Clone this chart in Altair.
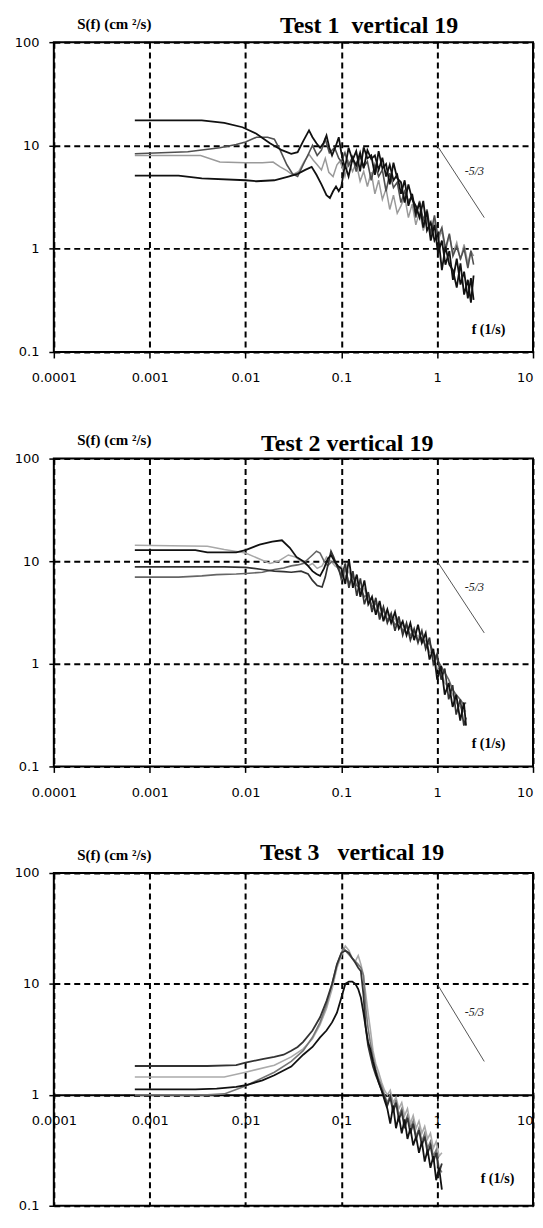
import altair as alt
import pandas as pd

SERIF = "Liberation Serif"
SANS = "DejaVu Sans"
NB = "\u00a0"

XTICKS = [0.0001, 0.001, 0.01, 0.1, 1, 10]
YTICKS = [0.1, 1, 10, 100]
X_DOMAIN = [0.0001, 10]
Y_DOMAIN = [0.1, 100]

SLOPE_F = [1, 3.1]
SLOPE_S = [10, 2.0]
SLOPE_TEXT = "-5/3"
SLOPE_TEXT_F = [2.45]
SLOPE_TEXT_S = [5.6]

TITLES = ["Test 1" + NB + " vertical 19", "Test 2 vertical 19", "Test 3" + NB + NB + " vertical 19"]
Y_TITLE = "S(f) (cm ²/s)"
X_TITLE = "f (1/s)"

# ---------------- Test 1 ----------------
T1_HF_F = [0.1, 0.109, 0.119, 0.131, 0.143, 0.157, 0.171, 0.187, 0.205, 0.224, 0.245, 0.268,
           0.293, 0.32, 0.35, 0.383, 0.419, 0.458, 0.501, 0.548, 0.599, 0.655, 0.716, 0.783,
           0.857, 0.937, 1.02, 1.12, 1.22, 1.34, 1.46, 1.6, 1.75, 1.91, 2.09, 2.25, 2.4]

T1_A_F = [0.0007, 0.0035, 0.006, 0.0093, 0.013, 0.018, 0.024, 0.03, 0.035, 0.04, 0.046, 0.05,
          0.055, 0.06, 0.065, 0.07, 0.075, 0.08, 0.088, 0.094]
T1_A_S = [17.5, 17.5, 16.5, 15, 13, 10.5, 9, 8.3, 8.6, 11, 14, 12, 10.5, 9.5, 10.5, 12.5, 9.5, 8,
          10, 12]
T1_A_HF = [8.5, 6.0, 9.5, 7.2, 8.8, 5.6, 9.6, 7.5, 8.0, 5.2, 8.8, 6.0, 6.6, 4.2, 6.8, 4.8, 4.4,
           2.8, 4.2, 3.0, 2.6, 2.0, 2.9, 1.5, 1.8, 1.2, 1.4, 0.62, 1.05, 0.7, 0.62, 0.42, 0.72,
           0.36, 0.5, 0.3, 0.55]

T1_B_F = [0.0007, 0.0025, 0.0054, 0.008, 0.01, 0.013, 0.017, 0.02, 0.023, 0.027, 0.031, 0.035,
          0.04, 0.046, 0.05, 0.056, 0.062, 0.068, 0.075, 0.085, 0.094]
T1_B_S = [8.3, 8.7, 9.5, 10.2, 10.8, 12, 12, 11.5, 9, 6.5, 5.3, 5.0, 6.5, 8.5, 10, 8, 9, 11.5,
          8.5, 9.5, 7.5]
T1_B_HF = [7.0, 8.5, 6.4, 7.8, 5.6, 8.0, 6.2, 7.0, 4.6, 6.5, 5.0, 5.8, 3.6, 5.4, 3.9, 4.4, 2.8,
           3.6, 2.9, 3.2, 2.0, 2.9, 1.9, 2.4, 1.4, 2.1, 1.3, 1.6, 1.0, 1.4, 0.85, 1.05, 0.8, 1.0,
           0.65, 0.95, 0.7]

T1_C_F = [0.0007, 0.0034, 0.0054, 0.01, 0.015, 0.0194, 0.023, 0.027, 0.031, 0.036, 0.041, 0.046,
          0.051, 0.056, 0.062, 0.068, 0.074, 0.082, 0.09, 0.096]
T1_C_S = [8.0, 8.0, 6.9, 6.8, 6.8, 6.9, 6.2, 5.7, 5.2, 5.6, 7.0, 8.2, 7.2, 6.5, 5.8, 7.5, 5.5,
          5.0, 6.5, 7.0]
T1_C_HF = [6.5, 5.0, 7.0, 5.6, 6.8, 4.5, 5.6, 4.0, 5.5, 3.4, 4.6, 3.0, 3.8, 2.4, 3.3, 2.2, 2.6,
           3.2, 2.0, 2.7, 1.7, 2.3, 1.5, 2.0, 1.3, 1.9, 1.2, 1.5, 0.95, 1.35, 0.9, 1.15, 0.78,
           1.1, 0.72, 0.95, 0.85]

T1_D_F = [0.0007, 0.002, 0.0035, 0.01, 0.013, 0.02, 0.028, 0.035, 0.042, 0.049, 0.055, 0.062,
          0.07, 0.076, 0.082, 0.088, 0.094]
T1_D_S = [5.1, 5.1, 4.8, 4.6, 4.5, 4.6, 5.0, 5.3, 5.8, 6.2, 5.2, 4.2, 3.3, 3.1, 3.6, 4.0, 3.6]
T1_D_HF = [4.0, 6.5, 5.0, 7.5, 6.4, 8.5, 6.0, 9.0, 7.4, 8.0, 5.8, 7.6, 5.0, 6.5, 4.6, 5.2, 3.4,
           4.6, 2.6, 3.4, 2.2, 2.8, 1.6, 2.3, 1.2, 1.7, 0.9, 1.2, 0.7, 0.95, 0.5, 0.8, 0.45, 0.6,
           0.33, 0.52, 0.32]

# ---------------- Test 2 ----------------
T2_HF_F = [0.1, 0.11, 0.12, 0.132, 0.145, 0.158, 0.174, 0.191, 0.209, 0.229, 0.251, 0.275,
           0.302, 0.331, 0.363, 0.398, 0.437, 0.479, 0.525, 0.575, 0.631, 0.692, 0.759, 0.832,
           0.912, 1.0, 1.1, 1.2, 1.32, 1.45, 1.58, 1.74, 1.9, 2.0]

T2_A_F = [0.0007, 0.003, 0.004, 0.008, 0.01, 0.014, 0.019, 0.024, 0.029, 0.034, 0.04, 0.045,
          0.05, 0.055, 0.06, 0.066, 0.072, 0.078, 0.085, 0.092]
T2_A_S = [12.8, 12.8, 12.2, 12.2, 12.8, 14.5, 15.5, 16.0, 13.5, 11.0, 10.0, 9.0, 8.0, 7.5, 7.2,
          8.5, 10.5, 11.5, 10.0, 9.0]
T2_A_HF = [8.5, 6.0, 10.5, 5.5, 7.4, 4.5, 6.5, 3.8, 4.5, 3.0, 4.1, 2.6, 3.4, 2.5, 3.2, 2.2, 2.6,
           1.9, 2.5, 1.7, 2.4, 1.6, 2.0, 1.1, 1.4, 0.7, 0.95, 0.5, 0.65, 0.38, 0.5, 0.28, 0.42,
           0.25]

T2_B_F = [0.0007, 0.006, 0.01, 0.015, 0.02, 0.025, 0.03, 0.038, 0.045, 0.05, 0.056, 0.063,
          0.068, 0.073, 0.078, 0.083, 0.09, 0.095]
T2_B_S = [8.8, 8.8, 8.7, 8.3, 8.0, 7.9, 7.8, 8.0, 7.5, 6.5, 5.8, 5.6, 7.0, 9.5, 12.5, 11.0, 9.0,
          8.0]
T2_B_HF = [7.0, 9.5, 5.5, 8.0, 4.6, 6.8, 3.8, 5.0, 3.2, 4.4, 2.7, 3.6, 2.5, 3.1, 2.1, 2.9, 1.9,
           2.5, 1.7, 2.2, 1.6, 2.1, 1.4, 1.8, 1.0, 1.25, 0.7, 0.9, 0.45, 0.62, 0.32, 0.45, 0.25,
           0.3]

T2_C_F = [0.0007, 0.004, 0.006, 0.01, 0.014, 0.018, 0.022, 0.028, 0.033, 0.038, 0.045, 0.05,
          0.056, 0.063, 0.07, 0.078, 0.086, 0.094]
T2_C_S = [14.3, 14.0, 13.0, 12.0, 10.5, 9.5, 10.0, 11.5, 11.0, 10.0, 9.0, 9.5, 8.5, 9.0, 11.0,
          10.0, 9.0, 8.5]
T2_C_HF = [9.0, 7.0, 8.0, 6.2, 6.5, 5.0, 5.4, 4.0, 4.3, 3.2, 3.6, 2.8, 3.1, 2.5, 2.8, 2.2, 2.4,
           2.0, 2.2, 1.8, 1.9, 1.6, 1.7, 1.3, 1.25, 0.9, 0.85, 0.65, 0.58, 0.5, 0.42, 0.38, 0.34,
           0.35]

T2_D_F = [0.0007, 0.002, 0.0035, 0.005, 0.008, 0.01, 0.015, 0.02, 0.025, 0.03, 0.035, 0.04,
          0.045, 0.05, 0.055, 0.06, 0.066, 0.072, 0.08, 0.088, 0.095]
T2_D_S = [7.0, 7.0, 7.2, 7.4, 7.5, 7.6, 7.8, 8.3, 8.6, 9.0, 9.2, 9.5, 10.5, 11.5, 12.5, 12.0,
          10.0, 9.0, 10.0, 9.5, 8.5]
T2_D_HF = [6.5, 8.5, 6.0, 7.2, 5.8, 5.4, 4.5, 4.8, 3.6, 3.9, 3.0, 3.3, 2.7, 2.9, 2.4, 2.6, 2.1,
           2.3, 1.9, 2.1, 1.7, 1.8, 1.5, 1.6, 1.3, 1.1, 0.95, 0.82, 0.7, 0.56, 0.5, 0.45, 0.4,
           0.42]

# ---------------- Test 3 ----------------
T3_HF_F = [0.2, 0.214, 0.229, 0.245, 0.263, 0.282, 0.302, 0.324, 0.347, 0.372, 0.398, 0.427,
           0.457, 0.49, 0.525, 0.562, 0.603, 0.646, 0.692, 0.741, 0.794, 0.851, 0.912, 0.977,
           1.047, 1.12]

T3_A_F = [0.0007, 0.004, 0.008, 0.01, 0.015, 0.02, 0.025, 0.03, 0.035, 0.04, 0.05, 0.06, 0.07,
          0.08, 0.09, 0.1, 0.11, 0.12, 0.13, 0.14, 0.15, 0.16, 0.17, 0.18, 0.19]
T3_A_S = [1.82, 1.82, 1.85, 1.95, 2.1, 2.2, 2.3, 2.5, 2.7, 3.0, 3.8, 5.0, 7.0, 10.0, 15.0, 19.0,
          20.0, 19.0, 17.0, 15.5, 14.0, 13.0, 8.0, 4.0, 2.8]
T3_A_HF = [2.3, 1.8, 1.5, 1.3, 1.1, 0.95, 0.8, 0.95, 0.7, 0.85, 0.6, 0.7, 0.5, 0.62, 0.45, 0.55,
           0.4, 0.48, 0.35, 0.42, 0.3, 0.35, 0.25, 0.3, 0.2, 0.24]

T3_B_F = [0.0007, 0.006, 0.01, 0.02, 0.03, 0.04, 0.05, 0.06, 0.07, 0.08, 0.09, 0.1, 0.11, 0.12,
          0.13, 0.14, 0.15, 0.16, 0.17, 0.18, 0.19]
T3_B_S = [1.45, 1.45, 1.6, 1.85, 2.2, 2.6, 3.2, 4.3, 6.0, 9.0, 14.0, 18.0, 22.0, 20.0, 17.0, 16.0,
          18.0, 15.0, 12.0, 8.0, 5.5]
T3_B_HF = [4.0, 2.5, 1.9, 1.6, 1.3, 1.1, 1.0, 1.1, 0.85, 0.95, 0.75, 0.85, 0.65, 0.75, 0.55, 0.65,
           0.5, 0.58, 0.45, 0.52, 0.4, 0.45, 0.33, 0.38, 0.28, 0.3]

T3_C_F = [0.0007, 0.003, 0.005, 0.008, 0.01, 0.015, 0.02, 0.03, 0.04, 0.05, 0.06, 0.07, 0.08,
          0.09, 0.1, 0.11, 0.12, 0.13, 0.14, 0.15, 0.16, 0.17, 0.18, 0.19]
T3_C_S = [1.12, 1.12, 1.14, 1.18, 1.22, 1.35, 1.5, 1.8, 2.3, 2.7, 3.3, 3.8, 4.5, 5.5, 7.5, 10.0,
          10.5, 10.5, 10.0, 9.0, 7.5, 5.5, 4.0, 3.0]
T3_C_HF = [2.6, 2.0, 1.6, 1.3, 1.1, 0.9, 0.75, 0.55, 0.8, 0.5, 0.65, 0.45, 0.6, 0.4, 0.5, 0.35,
           0.42, 0.3, 0.38, 0.25, 0.32, 0.22, 0.28, 0.17, 0.22, 0.14]

T3_D_F = [0.0007, 0.004, 0.006, 0.01, 0.02, 0.03, 0.04, 0.05, 0.06, 0.07, 0.08, 0.09, 0.1, 0.105,
          0.11, 0.13, 0.15, 0.16, 0.17, 0.18, 0.19]
T3_D_S = [1.0, 1.0, 1.02, 1.2, 1.6, 2.0, 2.5, 3.3, 4.5, 6.5, 10.0, 15.0, 19.0, 21.0, 20.0, 17.0,
          15.0, 14.0, 12.0, 6.0, 4.0]
T3_D_HF = [3.0, 2.2, 1.7, 1.4, 1.2, 1.0, 0.85, 1.0, 0.75, 0.9, 0.65, 0.75, 0.55, 0.65, 0.5, 0.58,
           0.42, 0.5, 0.38, 0.45, 0.33, 0.38, 0.28, 0.32, 0.22, 0.2]

# curve sets: (low-freq f, low-freq S, high-freq f, high-freq S, colour, width), drawn in order
PANELS = [
    [(T1_C_F, T1_C_S, T1_HF_F, T1_C_HF, "#9a9a9a", 1.5),
     (T1_B_F, T1_B_S, T1_HF_F, T1_B_HF, "#505050", 1.6),
     (T1_D_F, T1_D_S, T1_HF_F, T1_D_HF, "#111111", 1.8),
     (T1_A_F, T1_A_S, T1_HF_F, T1_A_HF, "#111111", 1.8)],
    [(T2_C_F, T2_C_S, T2_HF_F, T2_C_HF, "#a8a8a8", 1.5),
     (T2_D_F, T2_D_S, T2_HF_F, T2_D_HF, "#666666", 1.6),
     (T2_B_F, T2_B_S, T2_HF_F, T2_B_HF, "#333333", 1.7),
     (T2_A_F, T2_A_S, T2_HF_F, T2_A_HF, "#111111", 1.8)],
    [(T3_B_F, T3_B_S, T3_HF_F, T3_B_HF, "#aaaaaa", 1.6),
     (T3_D_F, T3_D_S, T3_HF_F, T3_D_HF, "#777777", 1.6),
     (T3_A_F, T3_A_S, T3_HF_F, T3_A_HF, "#333333", 1.8),
     (T3_C_F, T3_C_S, T3_HF_F, T3_C_HF, "#111111", 1.8)],
]

W = 481
HEIGHTS = [311, 309, 334]
TITLE_X = [227, 208, 207]
TITLE_Y = [-9, -8, -13]

LAST_LABEL_ALIGN = {"condition": {"test": "datum.value >= 10", "value": "right"}, "value": "center"}


def make_panel(k):
    h = HEIGHTS[k]
    xa = dict(values=XTICKS, format="~g", grid=True, gridDash=[6, 4], gridColor="black",
              gridWidth=2, gridOpacity=1, domain=(k == 2), domainColor="black", domainWidth=2,
              ticks=True, tickSize=6, tickColor="black", tickWidth=1.5, labelPadding=14,
              labelFont=SANS, labelFontSize=13, labelColor="black", labelFlush=False,
              labelOverlap=False, labelAlign=LAST_LABEL_ALIGN,
              title=X_TITLE, titleAngle=0, titleAlign="left",
              titleBaseline="alphabetic", titleFont=SERIF, titleFontSize=14,
              titleFontWeight="bold", titleColor="black",
              titleX=419 if k < 2 else 428,
              titleY=-19 if k < 2 else 88)
    if k == 2:
        xa["offset"] = -h / 3
    x_axis = alt.Axis(**xa)
    y_axis = alt.Axis(values=YTICKS, format="~g", grid=True, gridDash=[6, 4], gridColor="black",
                      gridWidth=2, gridOpacity=1, domain=False, ticks=True, tickSize=5,
                      tickColor="black", tickWidth=1.5, labelPadding=10, labelFont=SANS,
                      labelFontSize=13, labelColor="black", labelFlush=False, labelOverlap=False,
                      title=Y_TITLE, titleAngle=0, titleAlign="left", titleBaseline="alphabetic",
                      titleFont=SERIF, titleFontSize=15, titleFontWeight="bold",
                      titleColor="black", titleX=23, titleY=-14)
    xs = alt.Scale(type="log", domain=X_DOMAIN, nice=False)
    ys = alt.Scale(type="log", domain=Y_DOMAIN, nice=False)
    X = alt.X("f:Q", scale=xs, axis=x_axis)
    Y = alt.Y("S:Q", scale=ys, axis=y_axis)

    layers = []
    for (lf, ls, hf, hs, col, sw) in PANELS[k]:
        f = list(lf) + list(hf)
        s = list(ls) + list(hs)
        df = pd.DataFrame({"f": f, "S": s, "i": list(range(len(f)))})
        layers.append(alt.Chart(df).mark_line(color=col, strokeWidth=sw, strokeJoin="miter")
                      .encode(x=X, y=Y, order="i:Q"))
    slope = pd.DataFrame({"f": SLOPE_F, "S": SLOPE_S})
    layers.append(alt.Chart(slope).mark_line(color="#555555", strokeWidth=1).encode(x=X, y=Y))
    lab = pd.DataFrame({"f": SLOPE_TEXT_F, "S": SLOPE_TEXT_S, "t": [SLOPE_TEXT]})
    layers.append(alt.Chart(lab).mark_text(font=SERIF, fontStyle="italic", fontSize=12,
                                           color="#222222", align="center", baseline="middle")
                  .encode(x=X, y=Y, text="t:N"))
    ttl = pd.DataFrame({"t": [TITLES[k]]})
    layers.append(alt.Chart(ttl).mark_text(font=SERIF, fontSize=24, fontWeight="bold",
                                           color="black", align="left", baseline="alphabetic")
                  .encode(x=alt.value(TITLE_X[k]), y=alt.value(TITLE_Y[k]), text="t:N"))
    return alt.layer(*layers).properties(width=W, height=h)


chart = alt.VConcatChart(
    vconcat=[make_panel(0), make_panel(1), make_panel(2)],
    spacing=107, bounds="flush",
).properties(
    padding={"left": 5, "top": 3, "right": 0, "bottom": 0}, background="white"
).configure_view(stroke="black", strokeWidth=2)

chart.save("out.html", embed_options={"renderer": "svg", "actions": False})
